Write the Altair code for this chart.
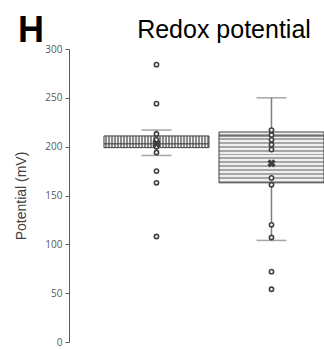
import altair as alt
import pandas as pd

# ---- data ----
groups = ["Group 1", "Group 2"]
whisker_low = [191, 104]
q1 = [199, 163]
median = [203, 211]
q3 = [211, 215]
whisker_high = [217, 250]
means = [203, 183]

g1_points = [284, 244, 213, 207, 200, 194, 175, 163, 108]
g2_points = [217, 212, 207, 202, 197, 168, 161, 120, 107, 72, 54]

tick_values = [0, 50, 100, 150, 200, 250, 300]
panel_letter = ["H"]
chart_title = ["Redox potential"]

stats = pd.DataFrame({
    "group": groups, "low": whisker_low, "q1": q1, "median": median,
    "q3": q3, "high": whisker_high, "mean": means,
})
points = pd.DataFrame({
    "group": [groups[0]] * len(g1_points) + [groups[1]] * len(g2_points),
    "value": g1_points + g2_points,
})
letter = pd.DataFrame({"t": panel_letter})
title_df = pd.DataFrame({"t": chart_title})


def stripes(n, light, dark, vertical):
    stops = []
    for k in range(n):
        a, m, b = k / n, (k + 0.5) / n, (k + 1) / n
        stops += [
            {"offset": a, "color": light},
            {"offset": m, "color": light},
            {"offset": m, "color": dark},
            {"offset": b, "color": dark},
        ]
    g = {"gradient": "linear", "stops": stops}
    if vertical:
        g.update({"x1": 0, "y1": 0, "x2": 1, "y2": 0})
    else:
        g.update({"x1": 0, "y1": 0, "x2": 0, "y2": 1})
    return g


xenc = alt.X("group:N", scale=alt.Scale(domain=groups, paddingInner=0.087,
                                        paddingOuter=0.152, align=1), axis=None)
yscale = alt.Scale(domain=[0, 300], nice=False)
yaxis = alt.Axis(values=tick_values, grid=False, domainColor="#595959",
                 tickColor="#595959", tickSize=4, labelColor="#595959",
                 labelFont="Open Sans", labelFontSize=10, labelPadding=3,
                 title="Potential (mV)", titleFont="Liberation Sans",
                 titleFontSize=14, titleFontWeight="normal", titleColor="#404040",
                 titlePadding=16)

dark = "#404040"

whisk_hi = alt.Chart(stats).mark_rule(color="#7f7f7f", strokeWidth=1.5).encode(
    x=xenc, y=alt.Y("q3:Q", scale=yscale, axis=yaxis), y2="high:Q")
whisk_lo = alt.Chart(stats).mark_rule(color="#7f7f7f", strokeWidth=1.5).encode(
    x=xenc, y=alt.Y("low:Q", scale=yscale), y2="q1:Q")
cap_hi = alt.Chart(stats).mark_tick(color="#7f7f7f", thickness=1.5, size=30).encode(
    x=xenc, y=alt.Y("high:Q", scale=yscale))
cap_lo = alt.Chart(stats).mark_tick(color="#7f7f7f", thickness=1.5, size=30).encode(
    x=xenc, y=alt.Y("low:Q", scale=yscale))

box1 = alt.Chart(stats).transform_filter(alt.datum.group == groups[0]).mark_rect(
    fill=stripes(35, "#f2f2f2", "#8c8c8c", True), stroke=dark, strokeWidth=1).encode(
    x=xenc, y=alt.Y("q1:Q", scale=yscale), y2="q3:Q")
box2 = alt.Chart(stats).transform_filter(alt.datum.group == groups[1]).mark_rect(
    fill=stripes(13, "#f0f0f0", "#a6a6a6", False), stroke=dark, strokeWidth=1).encode(
    x=xenc, y=alt.Y("q1:Q", scale=yscale), y2="q3:Q")
med = alt.Chart(stats).mark_tick(color=dark, thickness=1.5, size=105).encode(
    x=xenc, y=alt.Y("median:Q", scale=yscale))

pts = alt.Chart(points).mark_point(shape="circle", filled=True, fill="white",
                                   stroke=dark, strokeWidth=1.6, size=18, opacity=1).encode(
    x=xenc, y=alt.Y("value:Q", scale=yscale))
mean_mark = alt.Chart(stats).mark_point(shape="cross", angle=45, filled=True,
                                        color=dark, size=70, opacity=1).encode(
    x=xenc, y=alt.Y("mean:Q", scale=yscale))

h_text = alt.Chart(letter).mark_text(align="left", baseline="alphabetic",
                                     font="Liberation Sans", fontSize=36,
                                     fontWeight="bold", color="black").encode(
    x=alt.value(-51), y=alt.value(-7), text="t:N")
t_text = alt.Chart(title_df).mark_text(align="center", baseline="alphabetic",
                                       font="Liberation Sans", fontSize=25,
                                       fontWeight="normal", color="black").encode(
    x=alt.value(155), y=alt.value(-11), text="t:N")

chart = alt.layer(whisk_hi, whisk_lo, cap_hi, cap_lo, box1, box2, med, pts,
                  mean_mark, h_text, t_text).properties(
    width=255, height=293,
    padding={"left": 69, "top": 49, "right": 0, "bottom": 7},
    autosize=alt.AutoSizeParams(type="none"),
).configure_view(stroke=None)

chart.save("out.html", embed_options={"renderer": "svg", "actions": False})
